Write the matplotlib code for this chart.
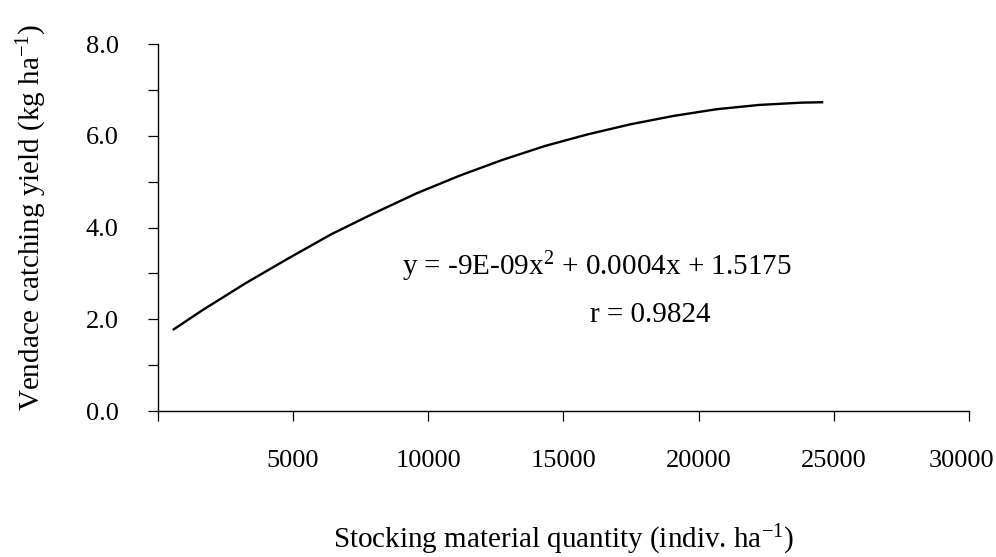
import numpy as np
import matplotlib
matplotlib.use("Agg")
import matplotlib.pyplot as plt
from matplotlib.ticker import FixedLocator, FuncFormatter
from matplotlib.transforms import ScaledTranslation

plt.rcParams['font.family'] = ['Liberation Serif', 'DejaVu Serif']
plt.rcParams['mathtext.fontset'] = 'custom'
plt.rcParams['mathtext.rm'] = 'Liberation Serif'
plt.rcParams['mathtext.it'] = 'Liberation Serif:italic'

# values
stocking = [550, 1660, 3240, 4830, 6410, 7990, 9570, 11160, 12740,
            14320, 15910, 17490, 19070, 20660, 22240, 23820, 24610]
catch_yield = [1.767, 2.204, 2.786, 3.331, 3.855, 4.313, 4.749, 5.134, 5.477,
               5.782, 6.037, 6.256, 6.437, 6.583, 6.677, 6.727, 6.736]

x_ticks = [0, 5000, 10000, 15000, 20000, 25000, 30000]
y_ticks = [0, 1, 2, 3, 4, 5, 6, 7, 8]

eq_text = r'y = -9E-09x$^{\mathrm{2}}$ + 0.0004x + 1.5175'
r_text = 'r = 0.9824'
xlabel = r'Stocking material quantity (indiv. ha$^{\mathrm{-1}}$)'
ylabel = r'Vendace catching yield (kg ha$^{\mathrm{-1}}$)'

fs = 21

fig = plt.figure(figsize=(9.96, 5.57), dpi=100)
ax = fig.add_axes([0.1585, 0.2621, 0.8144, 0.6584])

ax.plot(stocking, catch_yield, color='black', lw=1.7,
        solid_capstyle='butt', solid_joinstyle='round')

ax.set_xlim(0, 30000)
ax.set_ylim(0, 8)
ax.spines['top'].set_visible(False)
ax.spines['right'].set_visible(False)
ax.spines['left'].set_linewidth(1.0)
ax.spines['bottom'].set_linewidth(1.0)

ax.xaxis.set_major_locator(FixedLocator(x_ticks))
ax.xaxis.set_major_formatter(FuncFormatter(lambda v, p: '' if v == 0 else '%d' % v))
ax.yaxis.set_major_locator(FixedLocator(y_ticks))
ax.yaxis.set_major_formatter(FuncFormatter(lambda v, p: '%.1f' % v if int(round(v)) % 2 == 0 else ''))
ax.tick_params(direction='out', length=7.2, width=0.9, labelsize=19, pad=21)

# last label sits right at the edge, nudge it left a bit so it isn't clipped
last = ax.xaxis.get_major_ticks()[-1].label1
last.set_transform(last.get_transform() + ScaledTranslation(-8 / 100, 0, fig.dpi_scale_trans))

fig.text(0.0321, 0.610, ylabel, rotation=90, ha='center', va='center', fontsize=fs)
fig.text(0.5653, 0.016, xlabel, ha='center', va='baseline', fontsize=fs)

fig.text(0.4036, 0.5063, eq_text, ha='left', va='baseline', fontsize=fs)
fig.text(0.5924, 0.4219, r_text, ha='left', va='baseline', fontsize=fs)

fig.savefig('out.png', dpi=100)
